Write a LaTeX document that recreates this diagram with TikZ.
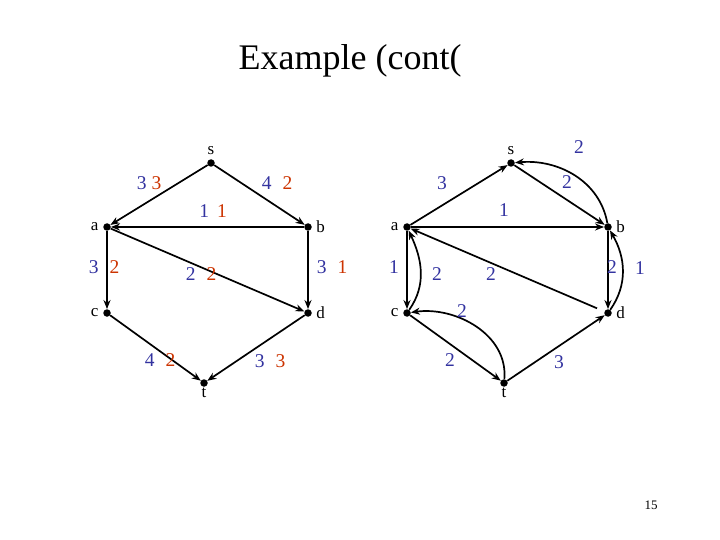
\documentclass[tikz,border=0pt]{standalone}
\usepackage{fontspec}
\setmainfont{Liberation Serif}
\usepackage{tikz}
\usetikzlibrary{positioning,arrows.meta}
\definecolor{cBlue}{HTML}{3333A0}
\definecolor{cRed}{HTML}{CC3300}
\definecolor{cInk}{HTML}{000000}
\newcommand{\fl}[3][11pt]{\textcolor{cBlue}{#2}\hspace{#1}\textcolor{cRed}{#3}}
\tikzset{
  vx/.style={circle,fill=cInk,minimum size=7.5pt,inner sep=0pt},
  vlbl/.style={font=\fontsize{17}{17}\selectfont,text=cInk,label distance=1pt},
  flowlbl/.style={font=\fontsize{19.5}{19.5}\selectfont,text=cBlue,inner sep=0pt},
  arc/.style={-{Stealth[length=9pt,width=7pt]},line width=1.7pt,cInk},
}
\begin{document}
\begin{tikzpicture}[x=1pt,y=-1pt]
  \useasboundingbox (0,0) rectangle (720,540);
  \node[font=\fontsize{36}{36}\selectfont] (title) at (350,61) {Example (cont(};
  % left network: capacities and flow
  \node[vx,label={[vlbl]above:s}] (s1) at (211,163) {};
  \node[vx,label={[vlbl]left:a}] (a1) at (107,227) {};
  \node[vx,label={[vlbl]right:b}] (b1) at (308,227) {};
  \node[vx,label={[vlbl]left:c}] (c1) at (107,313) {};
  \node[vx,label={[vlbl]right:d}] (d1) at (308,313) {};
  \node[vx,label={[vlbl,label distance=-3pt]below:t}] (t1) at (204,383) {};
  \draw[arc] (s1)--(a1);
  \draw[arc] (s1)--(b1);
  \draw[arc] (b1)--(a1);
  \draw[arc] (a1)--(d1);
  \draw[arc] (a1)--(c1);
  \draw[arc] (b1)--(d1);
  \draw[arc] (c1)--(t1);
  \draw[arc] (d1)--(t1);
  \node[flowlbl] (fsa) at (149,183) {\fl[5pt]{3}{3}};
  \node[flowlbl] (fsb) at (277,183) {\fl{4}{2}};
  \node[flowlbl] (fba) at (213,211) {\fl[8pt]{1}{1}};
  \node[flowlbl] (fac) at (104,267) {\fl{3}{2}};
  \node[flowlbl] (fad) at (201,274) {\fl{2}{2}};
  \node[flowlbl] (fbd) at (332,267) {\fl{3}{1}};
  \node[flowlbl] (fct) at (160,360) {\fl{4}{2}};
  \node[flowlbl] (fdt) at (270,361) {\fl{3}{3}};
  % right network: residual graph
  \node[vx,label={[vlbl]above:s}] (s2) at (511,163) {};
  \node[vx,label={[vlbl]left:a}] (a2) at (407,227) {};
  \node[vx,label={[vlbl]right:b}] (b2) at (608,227) {};
  \node[vx,label={[vlbl]left:c}] (c2) at (407,313) {};
  \node[vx,label={[vlbl]right:d}] (d2) at (608,313) {};
  \node[vx,label={[vlbl,label distance=-3pt]below:t}] (t2) at (504,383) {};
  \draw[arc] (a2)--(s2);
  \draw[arc] (s2)--(b2);
  \draw[arc] (a2)--(b2);
  \draw[arc] (b2)--(d2);
  \draw[arc,shorten <=8pt] (d2)--(a2);
  \draw[arc] (a2)--(c2);
  \draw[arc] (c2) to[out=55,in=-65] (a2);
  \draw[arc] (c2)--(t2);
  \draw[arc] (t2) to[out=85,in=8] (c2);
  \draw[arc] (t2)--(d2);
  \draw[arc] (b2) to[out=100,in=5] (s2);
  \draw[arc] (d2) to[out=55,in=-60] (b2);
  \node[flowlbl] (ras) at (442,183) {3};
  \node[flowlbl] (rsb) at (567,182) {2};
  \node[flowlbl] (rbs) at (579,147) {2};
  \node[flowlbl] (rab) at (504,210) {1};
  \node[flowlbl] (rac) at (394,267) {1};
  \node[flowlbl] (rca) at (437,274) {2};
  \node[flowlbl] (rda) at (491,274) {2};
  \node[flowlbl] (rbd) at (612,267) {2};
  \node[flowlbl] (rdb) at (640,268) {1};
  \node[flowlbl] (rtc) at (462,311) {2};
  \node[flowlbl] (rct) at (450,360) {2};
  \node[flowlbl] (rtd) at (559,362) {3};
  \node[font=\fontsize{13}{13}\selectfont] (page) at (651,505) {15};
\end{tikzpicture}
\end{document}
